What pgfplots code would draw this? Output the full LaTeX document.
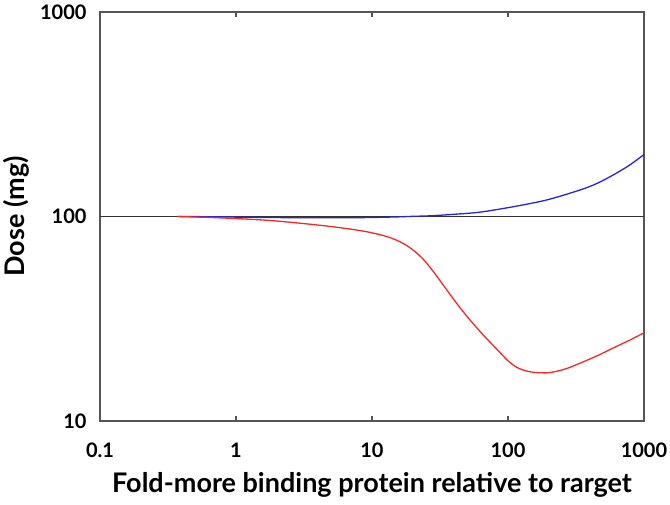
\documentclass[border=0pt]{standalone}
\usepackage{pgfplots}
\pgfplotsset{compat=1.18}
\usepackage{fontspec}
\setmainfont{Lato}
\definecolor{axgray}{HTML}{555555}
\definecolor{curveblue}{HTML}{2424DC}
\definecolor{curvered}{HTML}{F52828}

\begin{document}
\begin{tikzpicture}
\useasboundingbox (-100pt,-83pt) rectangle (570pt,421pt);
\begin{axis}[
    at={(0,0)}, anchor=south west,
    scale only axis,
    width=544pt, height=409pt,
    xmode=log, ymode=log,
    xmin=0.1, xmax=1000, ymin=10, ymax=1000,
    xtick={0.1,1,10,100,1000},
    xticklabels={0.1,1,10,100,1000},
    ytick={10,100,1000},
    yticklabels={10,100,1000},
    xminorticks=false, yminorticks=false,
    tick align=inside,
    major tick length=5pt,
    ytick style={draw=none},
    xtick style={axgray, line width=1.2pt},
    axis line style={axgray, line width=1.6pt},
    tick label style={font=\fontsize{20}{24}\selectfont\bfseries},
    /pgf/number format/assume math mode=true,
    xticklabel style={yshift=-18pt},
    yticklabel style={xshift=-10pt},
    xlabel={Fold-more binding protein relative to rarget},
    ylabel={Dose (mg)},
    label style={font=\fontsize{27}{31}\selectfont\bfseries},
    xlabel style={yshift=-8pt},
    ylabel style={yshift=4pt},
]
\addplot[black!80, line width=1.3pt] coordinates {(0.1,100) (1000,100)};
\addplot[curveblue, line width=1.3pt, smooth] coordinates {
(0.37,100) (0.7,99.7) (1,99.3) (2,98.8) (4,98.5) (7,98.6) (10,98.9)
(15,99.5) (20,100.2) (27,100.8) (40,102.5) (62,105) (109,111.6)
(192,120.4) (339,134.8) (450,145) (594,159.6) (780,178) (1000,201)};
\addplot[curvered, line width=1.3pt, smooth] coordinates {
(0.37,100) (0.76,98.5) (1.78,95.6) (4.15,90.6) (7,86.7) (9.6,83.7)
(12,80.8) (14,78.3) (16,75.3) (18.5,71.3) (21.3,66.3) (24.5,60.5)
(28.3,53.7) (32.5,47.4) (37.5,41.6) (43,36.8) (49.7,32.6) (57,29.3)
(65.9,26.3) (76,23.8) (87.4,21.6) (100,19.7) (116,18.3) (135,17.6)
(154,17.3) (180,17.2) (204,17.25) (260,17.9) (340,19.2) (450,20.8)
(590,22.7) (780,24.8) (1000,27)};
\end{axis}
\end{tikzpicture}
\end{document}
